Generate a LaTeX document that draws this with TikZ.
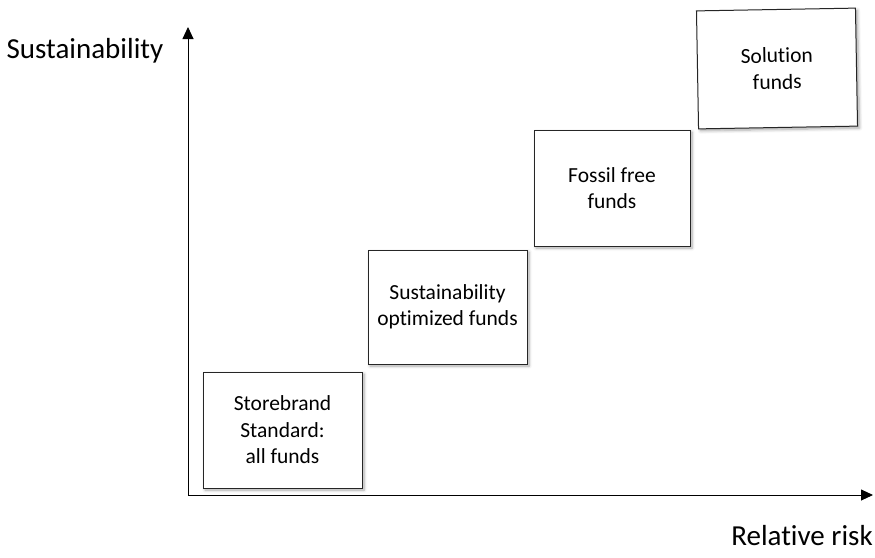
\documentclass[tikz,border=0pt]{standalone}
\usepackage{fontspec}
\setmainfont{Carlito}[Ligatures=NoCommon]
\usetikzlibrary{shadows.blur,arrows.meta}
\begin{document}
\begin{tikzpicture}[x=1pt,y=-1pt,
  fundbox/.style={draw=black!85, line width=1pt, fill=white, align=center,
    font=\fontsize{21.5}{26.5}\selectfont,
    blur shadow={shadow blur steps=6, shadow xshift=2pt, shadow yshift=-2pt, shadow blur radius=3pt, shadow opacity=35}},
  axis/.style={line width=0.9pt, -{Triangle[length=12pt,width=11pt]}},
  lbl/.style={font=\fontsize{29}{32}\selectfont, anchor=base}]
\useasboundingbox (0,0) rectangle (875,557);
\coordinate (o) at (188,495);
\coordinate (ytop) at (188,27);
\coordinate (xend) at (873,495);
\draw[axis] (o) -- (ytop);
\draw[axis] (o) -- (xend);
\node[fundbox, minimum width=159pt, minimum height=116pt] (b1) at (282.5,430) {Storebrand\\Standard:\\all funds};
\node[fundbox, minimum width=159pt, minimum height=114pt] (b2) at (447.5,307) {Sustainability\\optimized funds};
\node[fundbox, minimum width=156pt, minimum height=116pt] (b3) at (612,188) {Fossil free\\funds};
\node[fundbox, minimum width=159pt, minimum height=118pt, rotate=1] (b4) at (777,68.5) {Solution\\funds};
\node[lbl] (ylbl) at (85,58) {Sustainability};
\node[lbl] (xlbl) at (802,545) {Relative risk};
\end{tikzpicture}
\end{document}
